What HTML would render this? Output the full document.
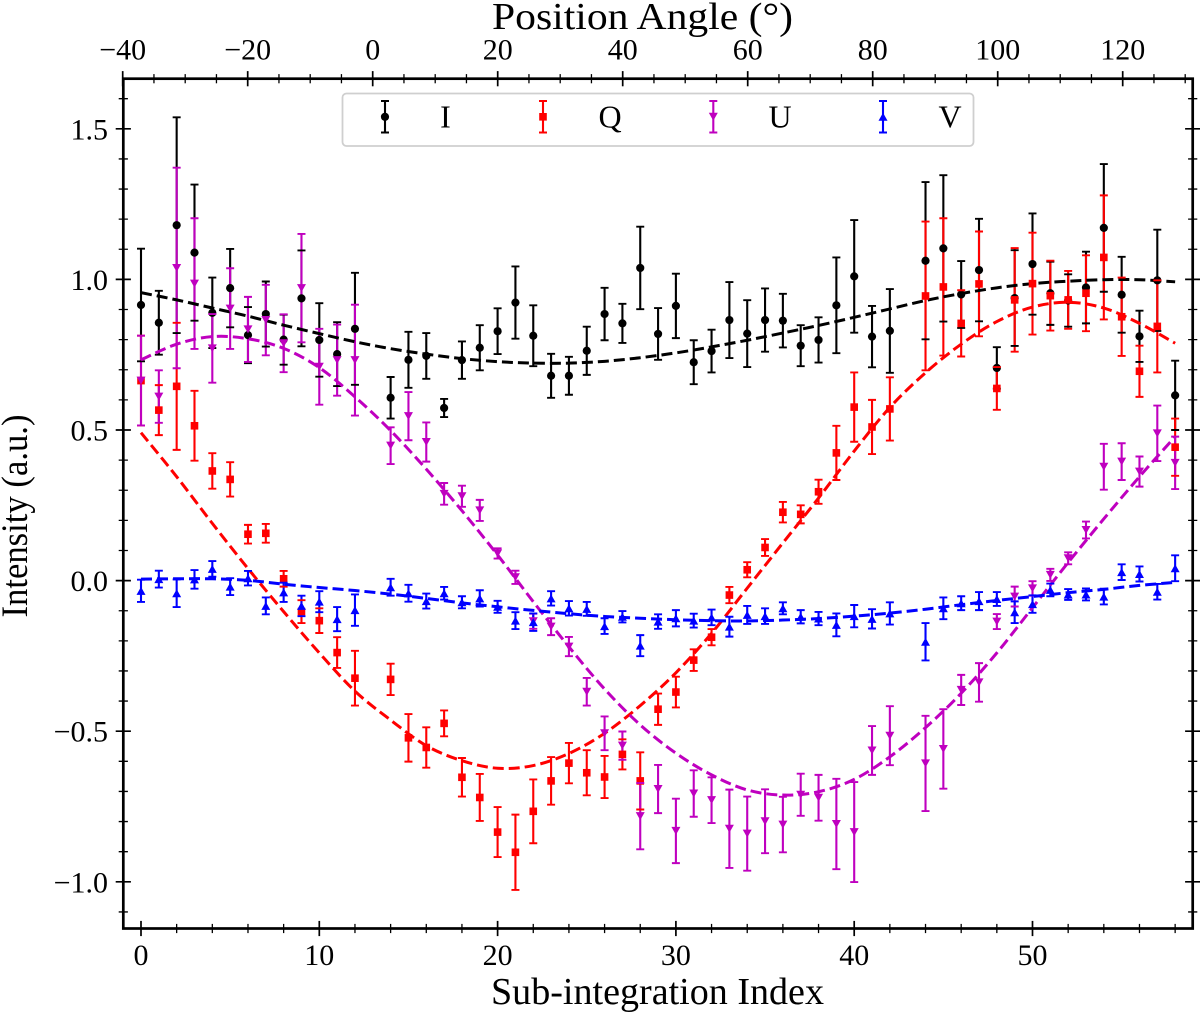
<!DOCTYPE html>
<html lang="en">
<head>
<meta charset="utf-8">
<title>Intensity vs Sub-integration Index</title>
<style>
html,body{margin:0;padding:0;background:#fff;}
svg{display:block;}
text{font-family:"Liberation Serif",serif;fill:#000;}
</style>
</head>
<body>
<svg id="chart" width="1200" height="1013" viewBox="0 0 1200 1013" xmlns="http://www.w3.org/2000/svg">
  <rect x="0" y="0" width="1200" height="1013" fill="#fff"/>
  <g id="marks"></g>
  <g id="legend">
    <rect x="342.5" y="93.5" width="631" height="52.5" rx="4" ry="4" fill="#fff" fill-opacity="0.8" stroke="#cfcfcf" stroke-width="1.8"/>
    <g>
      <path d="M385 101V132.5M381 101H389M381 132.5H389" stroke="#000" stroke-width="2.1" fill="none"/>
      <circle cx="385" cy="116.8" r="4.1" fill="#000"/>
      <text x="445.5" y="127.3" font-size="32" text-anchor="middle">I</text>
    </g>
    <g>
      <path d="M543 101V132.5M539 101H547M539 132.5H547" stroke="#f00" stroke-width="2.1" fill="none"/>
      <rect x="539.2" y="113" width="7.6" height="7.6" fill="#f00"/>
      <text x="610" y="127.3" font-size="32" text-anchor="middle">Q</text>
    </g>
    <g>
      <path d="M713.3 101V132.5M709.3 101H717.3M709.3 132.5H717.3" stroke="#bf00bf" stroke-width="2.1" fill="none"/>
      <path d="M708.8 112.8H717.8L713.3 120.8Z" fill="#bf00bf"/>
      <text x="780" y="127.3" font-size="32" text-anchor="middle">U</text>
    </g>
    <g>
      <path d="M883 101V132.5M879 101H887M879 132.5H887" stroke="#00f" stroke-width="2.1" fill="none"/>
      <path d="M878.5 120.8H887.5L883 112.8Z" fill="#00f"/>
      <text x="950" y="127.3" font-size="32" text-anchor="middle">V</text>
    </g>
  </g>
  <g id="axes"></g>
  <text x="642.5" y="29" font-size="38" text-anchor="middle" textLength="301" lengthAdjust="spacingAndGlyphs">Position Angle (°)</text>
  <text x="657.5" y="1004" font-size="38" text-anchor="middle" textLength="333" lengthAdjust="spacingAndGlyphs">Sub-integration Index</text>
  <text transform="translate(27,516) rotate(-90)" font-size="37" text-anchor="middle" textLength="203" lengthAdjust="spacingAndGlyphs">Intensity (a.u.)</text>
</svg>
<script>
// ---- chart data ----
const subIndex = [0,1,2,3,4,5,6,7,8,9,10,11,12,
  14,15,16,17,18,19,20,21,22,23,24,25,26,27,28,29,30,31,32,33,34,35,36,37,38,39,40,41,42,
  44,45,46,47,48,49,50,51,52,53,54,55,56,57,58];

const valuesI = [.915,.856,1.18,1.089,.889,.971,.815,.885,.80,.937,.799,.752,.836,
  .607,.733,.746,.573,.732,.773,.828,.923,.813,.68,.68,.763,.885,.854,1.038,.819,.912,.725,.762,.865,.82,.865,.863,.78,.799,.914,1.01,.81,.829,
  1.062,1.103,.95,1.031,.706,.938,1.051,.954,.93,.973,1.171,.949,.811,.997,.615];
const errorsI = [.187,.106,.358,.226,.117,.13,.093,.108,.083,.159,.122,.106,.186,
  .069,.093,.076,.03,.062,.075,.076,.12,.101,.073,.063,.08,.087,.065,.137,.086,.107,.073,.071,.126,.111,.105,.089,.068,.075,.159,.187,.102,.139,
  .261,.243,.111,.17,.069,.159,.168,.105,.087,.119,.212,.126,.085,.168,.115];

const valuesQ = [.664,.566,.645,.514,.364,.336,.154,.157,.006,-.103,-.133,-.239,-.324,
  -.328,-.522,-.554,-.474,-.653,-.72,-.835,-.902,-.766,-.665,-.606,-.638,-.652,-.577,-.665,-.427,-.37,-.264,-.188,-.048,.036,.11,.227,.22,.295,.424,.576,.51,.57,
  .945,.975,.854,.985,.638,.932,.986,.946,.932,.954,1.073,.876,.695,.844,.443];
const errorsQ = [.149,.083,.211,.116,.059,.057,.031,.031,.026,.038,.041,.051,.091,
  .052,.079,.067,.043,.064,.078,.083,.125,.106,.079,.067,.075,.07,.05,.095,.052,.051,.036,.027,.027,.025,.028,.034,.03,.04,.09,.115,.09,.105,
  .247,.228,.11,.174,.071,.172,.169,.116,.096,.126,.206,.13,.085,.153,.095];

const valuesU = [.664,.611,1.038,.986,.771,.903,.834,.865,.788,.971,.71,.732,.732,
  .448,.546,.46,.288,.28,.233,.09,.011,-.135,-.153,-.219,-.369,-.507,-.548,-.782,-.692,-.831,-.707,-.729,-.824,-.84,-.799,-.81,-.711,-.721,-.808,-.835,-.564,-.515,
  -.607,-.559,-.363,-.338,-.136,-.053,-.026,.019,.074,.168,.378,.395,.362,.489,.391];
const errorsU = [.149,.087,.333,.217,.114,.134,.108,.117,.096,.18,.126,.118,.184,
  .061,.08,.065,.036,.035,.035,.017,.022,.025,.028,.032,.046,.056,.047,.11,.08,.107,.077,.076,.13,.123,.106,.092,.07,.076,.15,.166,.081,.098,
  .158,.132,.05,.064,.025,.033,.024,.02,.02,.028,.076,.061,.05,.092,.087];

const valuesV = [-.034,.005,-.042,.004,.039,-.02,.008,-.084,-.039,-.084,-.07,-.128,-.098,
  -.022,-.042,-.068,-.042,-.072,-.059,-.087,-.133,-.138,-.059,-.092,-.094,-.151,-.12,-.216,-.136,-.125,-.133,-.122,-.153,-.114,-.118,-.092,-.12,-.126,-.147,-.118,-.127,-.109,
  -.203,-.092,-.075,-.068,-.061,-.105,-.078,-.031,-.046,-.046,-.053,.028,.022,-.037,.041];
const errorsV = [.037,.028,.046,.031,.026,.028,.024,.028,.032,.034,.035,.04,.052,
  .028,.028,.025,.021,.02,.027,.02,.028,.029,.024,.024,.023,.026,.019,.035,.024,.027,.023,.026,.033,.03,.026,.02,.022,.022,.038,.037,.032,.037,
  .062,.036,.023,.03,.023,.036,.029,.021,.018,.02,.026,.026,.025,.026,.043];

const fitIndex = [0,2,4,6,8,10,12,14,16,18,20,22,24,26,28,30,32,34,36,38,40,42,44,46,48,50,52,54,56,58];
const fitI = [.956,.932,.905,.878,.848,.82,.793,.77,.752,.737,.727,.722,.722,.728,.74,.756,.776,.798,.822,.847,.874,.902,.93,.953,.972,.986,.994,.999,.999,.992];
const fitQ = [.491,.345,.19,.04,-.103,-.24,-.367,-.463,-.548,-.598,-.623,-.614,-.574,-.507,-.415,-.306,-.175,-.025,.125,.274,.43,.575,.69,.785,.86,.908,.924,.905,.854,.788];
const fitU = [.733,.785,.81,.803,.771,.707,.61,.498,.37,.232,.085,-.07,-.22,-.36,-.479,-.573,-.645,-.695,-.712,-.701,-.66,-.585,-.488,-.374,-.24,-.09,.06,.205,.345,.478];
const fitV = [.005,.006,.006,.001,-.012,-.023,-.033,-.045,-.059,-.074,-.087,-.099,-.11,-.119,-.125,-.13,-.133,-.134,-.131,-.126,-.118,-.108,-.095,-.08,-.066,-.053,-.04,-.029,-.016,-.006];

const xTickLabels = [0,10,20,30,40,50];
const xMinorTicks = [2,4,6,8,12,14,16,18,22,24,26,28,32,34,36,38,42,44,46,48,52,54,56,58];
const yTickLabels = [-1.0,-0.5,0.0,0.5,1.0,1.5];
const yMinorTicks = [-1.1,-.9,-.8,-.7,-.6,-.4,-.3,-.2,-.1,.1,.2,.3,.4,.6,.7,.8,.9,1.1,1.2,1.3,1.4,1.6];
const topTickLabels = [-40,-20,0,20,40,60,80,100,120];
const topMinorTicks = [-35,-30,-25,-15,-10,-5,5,10,15,25,30,35,45,50,55,65,70,75,85,90,95,105,110,115,125,130];

// ---- axis functions ----
const plotLeft = 123.3, plotRight = 1192.7, plotTop = 78.7, plotBottom = 928.5;
const xScale = v => 141 + 17.83 * v;
const yScale = v => 580.6 - 301.2 * v;
const topScale = v => 372.7 + 6.25 * v;

const NS = 'http://www.w3.org/2000/svg';
const marks = document.getElementById('marks');
const axes = document.getElementById('axes');

function mk(parent, tag, attrs, txt) {
  const el = document.createElementNS(NS, tag);
  for (const k in attrs) el.setAttribute(k, attrs[k]);
  if (txt !== undefined) el.textContent = txt;
  parent.appendChild(el);
  return el;
}
function fmt(v) { return v.toFixed(1).replace('-', '\u2212'); }
function smoothPath(xs, ys) {
  const px = xs.map(xScale), py = ys.map(yScale);
  let d = 'M' + px[0].toFixed(2) + ' ' + py[0].toFixed(2);
  for (let i = 0; i < px.length - 1; i++) {
    const a = Math.max(i - 1, 0), b = Math.min(i + 2, px.length - 1);
    d += 'C' + (px[i] + (px[i + 1] - px[a]) / 6).toFixed(2) + ' ' + (py[i] + (py[i + 1] - py[a]) / 6).toFixed(2) +
      ' ' + (px[i + 1] - (px[b] - px[i]) / 6).toFixed(2) + ' ' + (py[i + 1] - (py[b] - py[i]) / 6).toFixed(2) +
      ' ' + px[i + 1].toFixed(2) + ' ' + py[i + 1].toFixed(2);
  }
  return d;
}

const seriesList = [
  { key: 'i', color: '#000', values: valuesI, errors: errorsI, fit: fitI, shape: 'circle' },
  { key: 'q', color: '#f00', values: valuesQ, errors: errorsQ, fit: fitQ, shape: 'square' },
  { key: 'u', color: '#bf00bf', values: valuesU, errors: errorsU, fit: fitU, shape: 'down' },
  { key: 'v', color: '#00f', values: valuesV, errors: errorsV, fit: fitV, shape: 'up' }
];

// vertical error bars of every series go first, then fits, markers and caps
seriesList.forEach(s => {
  subIndex.forEach((idx, i) => {
    const bar = mk(marks, 'line', { x1: xScale(idx), x2: xScale(idx), y1: yScale(s.values[i] + s.errors[i]), y2: yScale(s.values[i] - s.errors[i]), stroke: s.color, 'stroke-width': 2.1 });
    
    
  });
});

seriesList.forEach(s => {
  const fitLine = mk(marks, 'path', { d: smoothPath(fitIndex, s.fit), fill: 'none', stroke: s.color, 'stroke-width': 3, 'stroke-dasharray': '11 5' });
  
  

  subIndex.forEach((idx, i) => {
    const cx = xScale(idx), cy = yScale(s.values[i]);
    const capHi = yScale(s.values[i] + s.errors[i]), capLo = yScale(s.values[i] - s.errors[i]);
    const caps = mk(marks, 'path', { d: 'M' + (cx - 4) + ' ' + capHi + 'H' + (cx + 4) + 'M' + (cx - 4) + ' ' + capLo + 'H' + (cx + 4), stroke: s.color, 'stroke-width': 1.9, fill: 'none' });
    
    

    let dot;
    if (s.shape === 'circle') {
      dot = mk(marks, 'circle', { cx: cx, cy: cy, r: 4.1, fill: s.color });
    } else if (s.shape === 'square') {
      dot = mk(marks, 'rect', { x: cx - 3.8, y: cy - 3.8, width: 7.6, height: 7.6, fill: s.color });
    } else if (s.shape === 'down') {
      dot = mk(marks, 'path', { d: 'M' + (cx - 4.5) + ' ' + (cy - 4) + 'H' + (cx + 4.5) + 'L' + cx + ' ' + (cy + 4) + 'Z', fill: s.color });
    } else {
      dot = mk(marks, 'path', { d: 'M' + (cx - 4.5) + ' ' + (cy + 4) + 'H' + (cx + 4.5) + 'L' + cx + ' ' + (cy - 4) + 'Z', fill: s.color });
    }
    
    
  });
});

// ---- axes ----
const frame = mk(axes, 'rect', { x: plotLeft, y: plotTop, width: plotRight - plotLeft, height: plotBottom - plotTop, fill: 'none', stroke: '#000', 'stroke-width': 2.7 });



const MAJOR = 7.6, MINOR = 4.6;

xTickLabels.forEach(v => {
  const x = xScale(v);
  const tick = mk(axes, 'path', { d: 'M' + x + ' ' + (plotBottom - MAJOR) + 'V' + (plotBottom + MAJOR), stroke: '#000', 'stroke-width': 1.7 });
  
  
  const label = mk(axes, 'text', { x: x, y: 965, 'font-size': 30, 'text-anchor': 'middle' }, String(v));
  
  
});
xMinorTicks.forEach(v => {
  const x = xScale(v);
  const tick = mk(axes, 'path', { d: 'M' + x + ' ' + (plotBottom - MINOR) + 'V' + (plotBottom + MINOR), stroke: '#000', 'stroke-width': 1.3 });
  
  
});

topTickLabels.forEach(v => {
  const x = topScale(v);
  const tick = mk(axes, 'path', { d: 'M' + x + ' ' + (plotTop - MAJOR) + 'V' + (plotTop + MAJOR), stroke: '#000', 'stroke-width': 1.7 });
  
  
  const label = mk(axes, 'text', { x: x, y: 59.3, 'font-size': 30, 'text-anchor': 'middle' }, String(v).replace('-', '\u2212'));
  
  
});
topMinorTicks.forEach(v => {
  const x = topScale(v);
  const tick = mk(axes, 'path', { d: 'M' + x + ' ' + (plotTop - MINOR) + 'V' + (plotTop + MINOR), stroke: '#000', 'stroke-width': 1.3 });
  
  
});

yTickLabels.forEach(v => {
  const y = yScale(v);
  const tick = mk(axes, 'path', { d: 'M' + (plotLeft - MAJOR) + ' ' + y + 'H' + (plotLeft + MAJOR) + 'M' + (plotRight - MAJOR) + ' ' + y + 'H' + (plotRight + MAJOR), stroke: '#000', 'stroke-width': 1.7 });
  
  
  const label = mk(axes, 'text', { x: 108, y: y + 10.5, 'font-size': 30, 'text-anchor': 'end' }, fmt(v));
  
  
});
yMinorTicks.forEach(v => {
  const y = yScale(v);
  const tick = mk(axes, 'path', { d: 'M' + (plotLeft - MINOR) + ' ' + y + 'H' + (plotLeft + MINOR) + 'M' + (plotRight - MINOR) + ' ' + y + 'H' + (plotRight + MINOR), stroke: '#000', 'stroke-width': 1.3 });
  
  
});
</script>
</body>
</html>
